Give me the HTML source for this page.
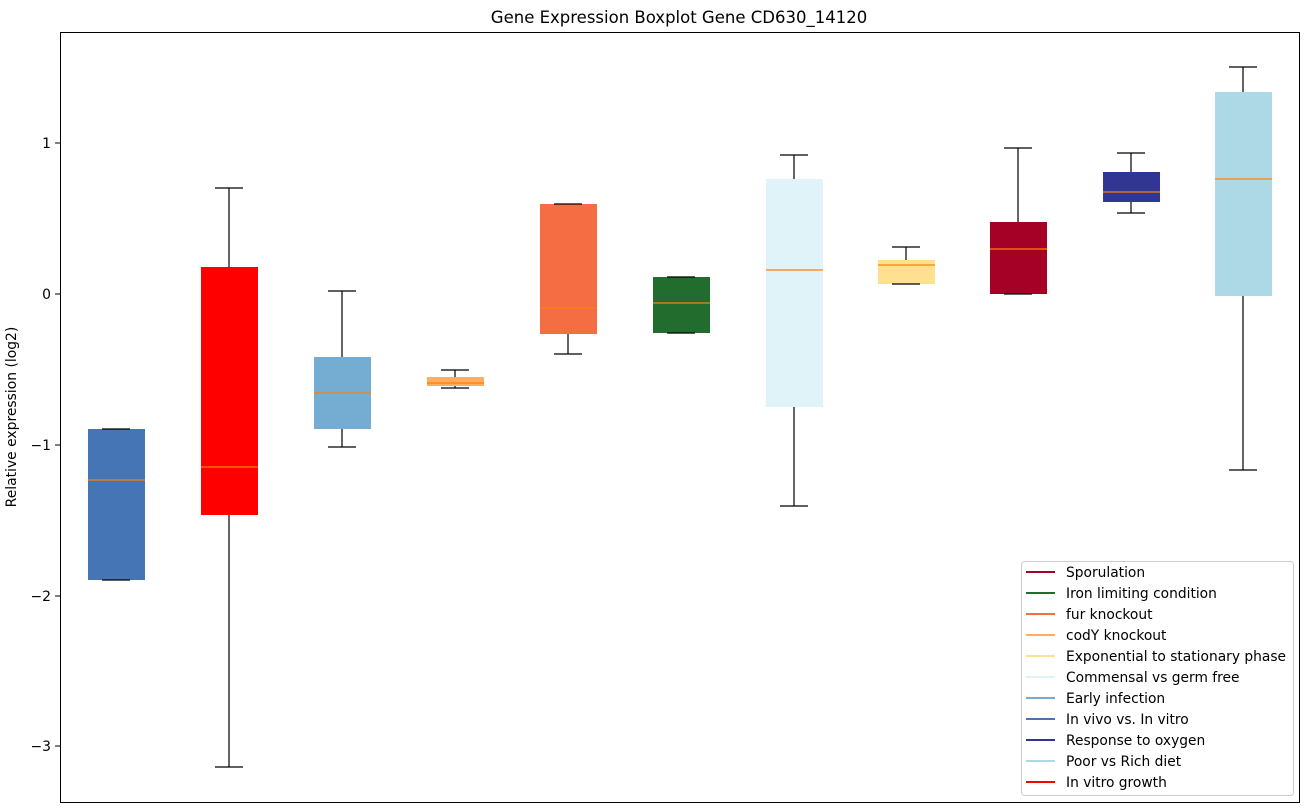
<!DOCTYPE html>
<html><head><meta charset="utf-8"><style>body{margin:0;background:#fff}svg{display:block;font-family:"DejaVu Sans","Liberation Sans",sans-serif}</style></head><body>
<svg width="1309" height="812" xmlns="http://www.w3.org/2000/svg">
<rect width="1309" height="812" fill="#fff"/>
<text x="679" y="23" font-size="16.5" text-anchor="middle">Gene Expression Boxplot Gene CD630_14120</text>
<g stroke="#000" stroke-width="1">
<line x1="55" y1="143" x2="60" y2="143"/><line x1="55" y1="294" x2="60" y2="294"/><line x1="55" y1="445" x2="60" y2="445"/><line x1="55" y1="596" x2="60" y2="596"/><line x1="55" y1="746" x2="60" y2="746"/>
</g>
<g font-size="13.9" text-anchor="end">
<text x="51" y="148">1</text><text x="51" y="299">0</text><text x="51" y="450">−1</text><text x="51" y="601">−2</text><text x="51" y="751">−3</text>
</g>
<text transform="translate(16,417) rotate(-90)" font-size="13.9" text-anchor="middle">Relative expression (log2)</text>
<g>
<rect x="88" y="429" width="57" height="151" fill="#4575b4"/>
<rect x="201" y="267" width="57" height="248" fill="#ff0000"/>
<rect x="314" y="357" width="57" height="72" fill="#74add1"/>
<rect x="427" y="377" width="57" height="9" fill="#fdae61"/>
<rect x="540" y="204" width="57" height="130" fill="#f46d43"/>
<rect x="653" y="277" width="57" height="56" fill="#226d2e"/>
<rect x="766" y="179" width="57" height="228" fill="#e0f3f8"/>
<rect x="878" y="260" width="57" height="24" fill="#fee090"/>
<rect x="990" y="222" width="57" height="72" fill="#a50026"/>
<rect x="1103" y="172" width="57" height="30" fill="#313695"/>
<rect x="1215" y="92" width="57" height="204" fill="#add8e6"/>
</g>
<g stroke="#000" stroke-width="1.2" fill="none">
<path d="M102 429H130M102 580H130"/>
<path d="M229 188V267M215 188H243M229 515V767M215 767H243"/>
<path d="M342 291V357M328 291H356M342 429V447M328 447H356"/>
<path d="M455 370V377M441 370H469M455 386V388M441 388H469"/>
<path d="M554 204H582M568 334V354M554 354H582"/>
<path d="M667 277H695M667 333H695"/>
<path d="M794 155V179M780 155H808M794 407V506M780 506H808"/>
<path d="M906 247V260M892 247H920M892 284H920"/>
<path d="M1018 148V222M1004 148H1032M1004 294H1032"/>
<path d="M1131 153V172M1117 153H1145M1131 202V213M1117 213H1145"/>
<path d="M1243 67V92M1229 67H1257M1243 296V470M1229 470H1257"/>
</g>
<g stroke="#ff7f0e" stroke-width="1.2">
<line x1="88" y1="480" x2="145" y2="480"/><line x1="201" y1="467" x2="258" y2="467"/><line x1="314" y1="393" x2="371" y2="393"/><line x1="427" y1="383" x2="484" y2="383"/><line x1="540" y1="308" x2="597" y2="308"/><line x1="653" y1="303" x2="710" y2="303"/><line x1="766" y1="270" x2="823" y2="270"/><line x1="878" y1="265" x2="935" y2="265"/><line x1="990" y1="249" x2="1047" y2="249"/><line x1="1103" y1="192" x2="1160" y2="192"/><line x1="1215" y1="179" x2="1272" y2="179"/>
</g>
<rect x="60.5" y="32.5" width="1239" height="770" fill="none" stroke="#000"/>
<rect x="1021.5" y="561.5" width="272" height="234" rx="3" fill="#fff" stroke="#ccc"/>
<g stroke-width="2">
<line x1="1026" y1="572" x2="1055" y2="572" stroke="#a50026"/>
<line x1="1026" y1="593" x2="1055" y2="593" stroke="#226d2e"/>
<line x1="1026" y1="614" x2="1055" y2="614" stroke="#f46d43"/>
<line x1="1026" y1="635" x2="1055" y2="635" stroke="#fdae61"/>
<line x1="1026" y1="656" x2="1055" y2="656" stroke="#fee090"/>
<line x1="1026" y1="677" x2="1055" y2="677" stroke="#e0f3f8"/>
<line x1="1026" y1="698" x2="1055" y2="698" stroke="#74add1"/>
<line x1="1026" y1="719" x2="1055" y2="719" stroke="#4575b4"/>
<line x1="1026" y1="740" x2="1055" y2="740" stroke="#313695"/>
<line x1="1026" y1="761" x2="1055" y2="761" stroke="#add8e6"/>
<line x1="1026" y1="782" x2="1055" y2="782" stroke="#ff0000"/>
</g>
<g font-size="13.8">
<text x="1066" y="577">Sporulation</text>
<text x="1066" y="598">Iron limiting condition</text>
<text x="1066" y="619">fur knockout</text>
<text x="1066" y="640">codY knockout</text>
<text x="1066" y="661">Exponential to stationary phase</text>
<text x="1066" y="682">Commensal vs germ free</text>
<text x="1066" y="703">Early infection</text>
<text x="1066" y="724">In vivo vs. In vitro</text>
<text x="1066" y="745">Response to oxygen</text>
<text x="1066" y="766">Poor vs Rich diet</text>
<text x="1066" y="787">In vitro growth</text>
</g>
</svg>
</body></html>
